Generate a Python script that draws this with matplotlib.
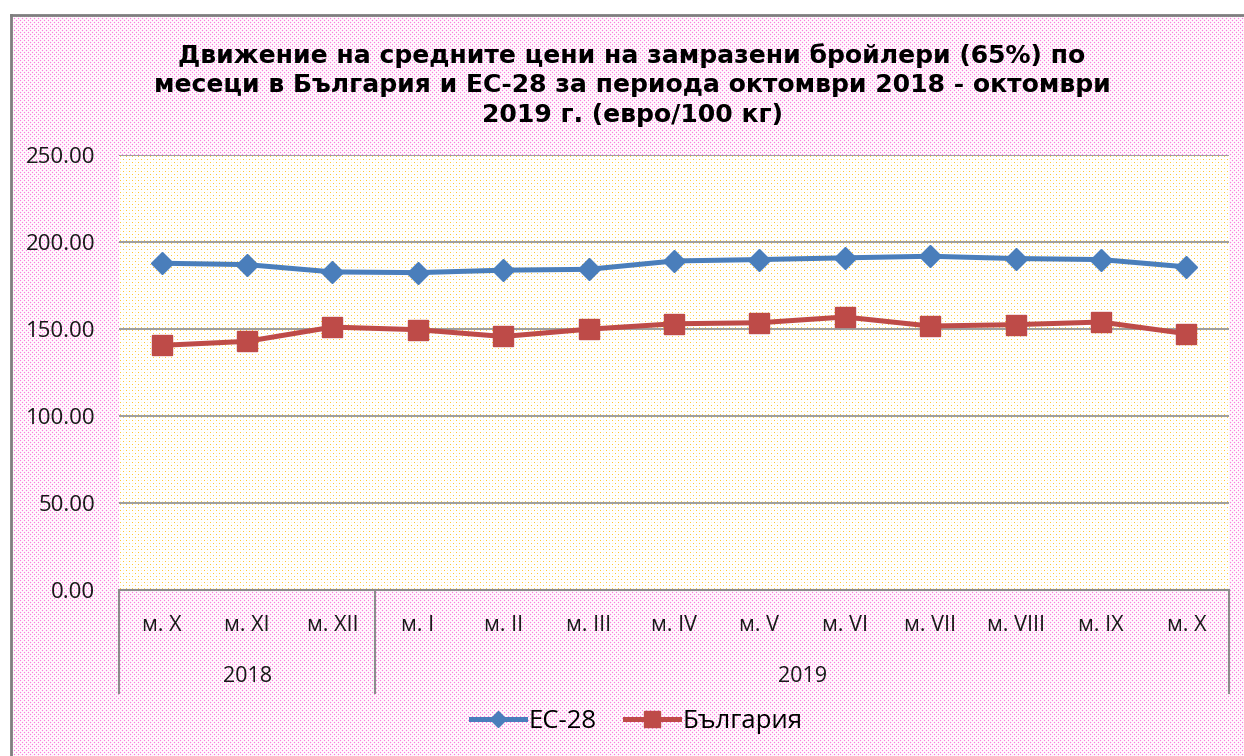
import numpy as np
import matplotlib
matplotlib.use("Agg")
import matplotlib.pyplot as plt
from matplotlib.lines import Line2D

# ---- data ----
months = ["м. X", "м. XI", "м. XII", "м. I", "м. II", "м. III", "м. IV",
          "м. V", "м. VI", "м. VII", "м. VIII", "м. IX", "м. X"]
years = ["2018", "2019"]
year_counts = [3, 10]
eu28 = [187.8, 187.0, 182.8, 182.4, 183.8, 184.3, 189.1, 189.9, 190.9,
        191.8, 190.5, 189.9, 185.7]
bulgaria = [140.6, 142.9, 151.1, 149.6, 145.7, 149.9, 153.0, 153.6, 156.9,
            151.7, 152.5, 154.0, 147.3]
series_names = ["ЕС-28", "България"]
title = ("Движение на средните цени на замразени бройлери (65%) по\n"
         "месеци в България и ЕС-28 за периода октомври 2018 - октомври\n"
         "2019 г. (евро/100 кг)")

W, H, DPI = 1244, 756, 100
fig = plt.figure(figsize=(W / DPI, H / DPI), dpi=DPI)
fig.patch.set_facecolor("white")

# axes placement (pixels)
L, R, T, B = 119, 1229, 155, 590
ax = fig.add_axes([L / W, (H - B) / H, (R - L) / W, (B - T) / H])
ax.patch.set_visible(False)

# ---- background textures ----
img = np.ones((H, W, 3))
yy, xx = np.mgrid[0:H, 0:W]
chart = (xx >= 11) & (yy >= 16)
pink_dot = ((yy % 4 == 0) & (xx % 4 == 0)) | ((yy % 4 == 2) & (xx % 4 == 2))
pink_soft = ((yy % 2 == 0) & (xx % 2 == 1)) | ((yy % 2 == 1) & (xx % 2 == 0))
plot = (xx >= L) & (xx < R) & (yy >= T) & (yy < B)
img[chart & pink_soft & ~plot] = [1.0, 0.91, 0.98]
img[chart & pink_dot & ~plot] = [0.98, 0.50, 0.87]
yel_dot = ((yy % 6 == 0) & (xx % 6 == 0)) | ((yy % 6 == 3) & (xx % 6 == 3))
yel_soft = ((yy % 3 == 0) & (xx % 3 == 0))
img[plot & yel_soft] = [1.0, 0.95, 0.78]
img[plot & yel_dot] = [1.0, 0.78, 0.2]
fig.figimage(img, 0, 0, origin="upper", zorder=-10)

# chart outer border (left and top)
border_c = "#7f7f7f"
fig.add_artist(Line2D([10.5 / W, 10.5 / W], [0, (H - 15) / H], color=border_c, lw=2,
                      transform=fig.transFigure))
fig.add_artist(Line2D([10.5 / W, 1], [(H - 15) / H, (H - 15) / H], color=border_c, lw=2,
                      transform=fig.transFigure))

x = np.arange(len(months))
blue = "#4a7ebb"
red = "#be4b48"
ax.plot(x, eu28, color=blue, lw=3.6, marker="D", ms=11, mfc=blue, mec=blue,
        label=series_names[0], zorder=3)
ax.plot(x, bulgaria, color=red, lw=3.6, marker="s", ms=14.5, mfc=red, mec=red,
        label=series_names[1], zorder=3)

fnt = "Open Sans"
txt_c = "#1a1a1a"
ax.set_xlim(-0.5, len(months) - 0.5)
ax.set_ylim(0, 250)
ax.set_yticks(np.arange(0, 251, 50))
ax.set_yticklabels([f"{v:.2f}" for v in np.arange(0, 251, 50)],
                   fontsize=16, family=fnt, color=txt_c)
ax.yaxis.grid(True, color="#8c8c8c", lw=1.2)
ax.set_axisbelow(True)
ax.tick_params(axis="y", length=0, pad=17)
for s in ["left", "right", "top"]:
    ax.spines[s].set_visible(False)
ax.spines["bottom"].set_color("#8c8c8c")
ax.spines["bottom"].set_linewidth(1.5)

ax.set_xticks(x)
ax.set_xticklabels(months, fontsize=15.5, family=fnt, color=txt_c)
ax.tick_params(axis="x", length=0, pad=18)

# multi-level category separators
trans = ax.get_xaxis_transform()
depth = -(693 - B) / (B - T)
bounds = np.concatenate([[0], np.cumsum(year_counts)]) - 0.5
for b in bounds:
    ax.plot([b, b], [0, depth], color="#8c8c8c", lw=1.5, transform=trans, clip_on=False)
for i, yr in enumerate(years):
    cx = (bounds[i] + bounds[i + 1]) / 2
    ax.text(cx, -(676 - B) / (B - T), yr, transform=trans, ha="center", va="center",
            fontsize=15.5, family=fnt, color=txt_c)

fig.text(632 / W, (H - 85) / H, title, ha="center", va="center", fontsize=18,
         fontweight="bold", family="DejaVu Sans", linespacing=1.3)

fig.legend(loc="center", bbox_to_anchor=(637 / W, (H - 721) / H), ncol=2,
           frameon=False, prop={"family": fnt, "size": 18.5},
           handlelength=2.1, columnspacing=1.1, handletextpad=0.15, markerscale=0.75)

fig.savefig("out.png", dpi=DPI)
